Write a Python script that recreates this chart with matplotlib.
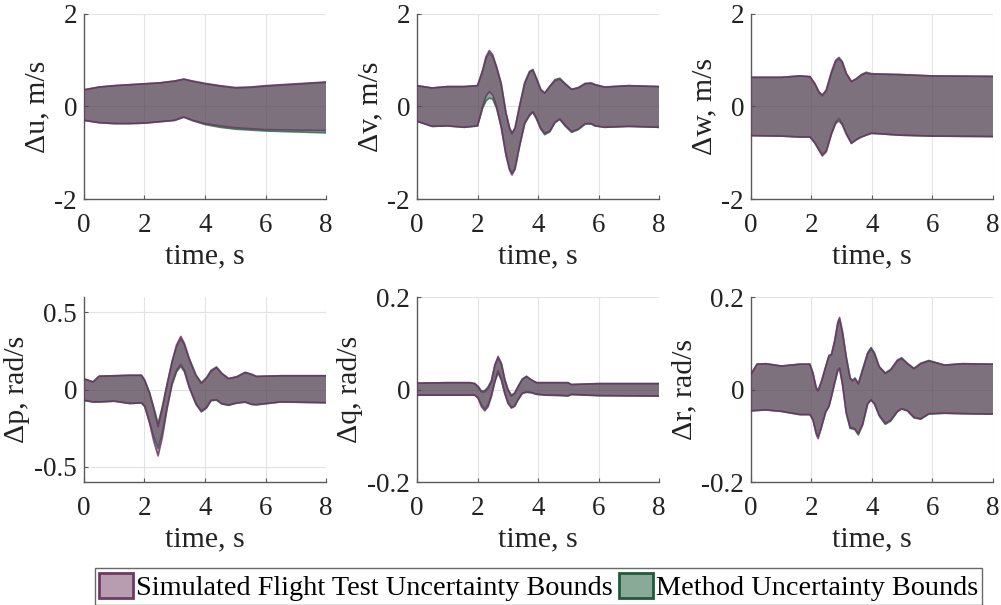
import numpy as np
import matplotlib.pyplot as plt
from matplotlib.patches import Patch

plt.rcParams['font.family'] = ['Liberation Serif', 'DejaVu Serif']
plt.rcParams['axes.unicode_minus'] = False

# --- bounds per state: time, simulated flight test (sim) and method (met) ---
t_u = [0, 0.5, 1, 1.5, 2, 2.5, 3, 3.3, 3.6, 4, 4.5, 5, 5.5, 6, 7, 8]
u_sim_hi = [0.36, 0.42, 0.45, 0.47, 0.49, 0.51, 0.55, 0.59, 0.55, 0.50, 0.45, 0.41, 0.42, 0.45, 0.49, 0.53]
u_sim_lo = [-0.30, -0.35, -0.37, -0.37, -0.36, -0.33, -0.30, -0.23, -0.30, -0.37, -0.42, -0.46, -0.48, -0.50, -0.51, -0.52]
u_met_hi = [0.36, 0.42, 0.45, 0.47, 0.49, 0.51, 0.55, 0.59, 0.54, 0.49, 0.44, 0.40, 0.41, 0.44, 0.48, 0.52]
u_met_lo = [-0.30, -0.35, -0.37, -0.37, -0.36, -0.33, -0.30, -0.23, -0.31, -0.39, -0.45, -0.49, -0.51, -0.53, -0.55, -0.57]

t_v = [0, 0.5, 1, 1.56, 2.0, 2.17, 2.28, 2.39, 2.5, 2.63, 2.78, 2.94, 3.06, 3.14, 3.24, 3.39, 3.56,
       3.72, 3.83, 3.94, 4.09, 4.22, 4.39, 4.56, 4.72, 4.89, 5.11, 5.33, 5.56, 5.76, 5.89, 6.2, 7, 8]
v_sim_hi = [0.45, 0.40, 0.43, 0.43, 0.45, 0.79, 1.08, 1.21, 1.12, 0.86, 0.50, -0.14, -0.47, -0.59, -0.47, 0.0, 0.50,
            0.74, 0.78, 0.61, 0.36, 0.29, 0.43, 0.56, 0.59, 0.49, 0.37, 0.40, 0.49, 0.50, 0.47, 0.42, 0.45, 0.43]
v_sim_lo = [-0.32, -0.43, -0.42, -0.45, -0.42, 0.0, 0.22, 0.32, 0.25, 0.0, -0.43, -1.05, -1.38, -1.48, -1.36, -0.86, -0.36,
            -0.18, -0.11, -0.24, -0.47, -0.58, -0.53, -0.34, -0.27, -0.40, -0.54, -0.49, -0.37, -0.37, -0.42, -0.45, -0.43, -0.45]
v_met_hi = [0.45, 0.40, 0.43, 0.43, 0.45, 0.77, 1.04, 1.16, 1.08, 0.84, 0.50, -0.13, -0.46, -0.57, -0.46, 0.02, 0.52,
            0.76, 0.80, 0.63, 0.37, 0.29, 0.44, 0.58, 0.61, 0.50, 0.37, 0.41, 0.50, 0.51, 0.47, 0.42, 0.45, 0.43]
v_met_lo = [-0.32, -0.43, -0.42, -0.45, -0.42, -0.04, 0.12, 0.18, 0.16, -0.04, -0.44, -1.04, -1.35, -1.44, -1.33, -0.85, -0.37,
            -0.20, -0.13, -0.26, -0.49, -0.61, -0.55, -0.35, -0.28, -0.42, -0.56, -0.50, -0.38, -0.38, -0.42, -0.45, -0.43, -0.45]

t_w = [0, 1, 1.62, 1.95, 2.11, 2.25, 2.36, 2.49, 2.66, 2.8, 2.91, 3.02, 3.15, 3.32, 3.48, 3.65, 3.81, 3.98, 4.25, 4.91, 6, 8]
w_sim_hi = [0.63, 0.63, 0.66, 0.645, 0.50, 0.32, 0.25, 0.36, 0.75, 1.00, 1.06, 0.97, 0.72, 0.54, 0.59, 0.68, 0.72, 0.70,
            0.70, 0.69, 0.66, 0.65]
w_sim_lo = [-0.63, -0.64, -0.66, -0.66, -0.79, -0.95, -1.07, -0.98, -0.60, -0.37, -0.31, -0.40, -0.60, -0.80, -0.72, -0.66,
            -0.62, -0.58, -0.59, -0.62, -0.64, -0.65]
w_met_hi = [0.63, 0.63, 0.66, 0.645, 0.49, 0.30, 0.23, 0.34, 0.72, 0.97, 1.03, 0.95, 0.71, 0.54, 0.60, 0.69, 0.74, 0.71,
            0.70, 0.69, 0.66, 0.65]
w_met_lo = [-0.63, -0.64, -0.66, -0.66, -0.78, -0.93, -1.04, -0.96, -0.59, -0.34, -0.26, -0.37, -0.58, -0.79, -0.72, -0.66,
            -0.62, -0.58, -0.59, -0.62, -0.64, -0.65]

t_p = [0, 0.3, 0.5, 1, 1.52, 1.9, 2.01, 2.17, 2.3, 2.45, 2.59, 2.74, 2.91, 3.06, 3.2, 3.32, 3.48, 3.7, 3.88,
       4.05, 4.2, 4.38, 4.55, 4.78, 5.05, 5.33, 5.55, 5.7, 6.5, 8]
p_sim_hi = [0.07, 0.05, 0.087, 0.09, 0.093, 0.093, 0.06, -0.026, -0.12, -0.24, -0.12, 0.025, 0.18, 0.29, 0.345, 0.30,
            0.20, 0.093, 0.04, 0.075, 0.12, 0.143, 0.105, 0.071, 0.082, 0.11, 0.098, 0.085, 0.09, 0.09]
p_sim_lo = [-0.07, -0.08, -0.08, -0.075, -0.09, -0.086, -0.11, -0.22, -0.33, -0.43, -0.31, -0.134, 0.039, 0.125, 0.164,
            0.125, 0.017, -0.09, -0.138, -0.115, -0.069, -0.066, -0.09, -0.10, -0.086, -0.08, -0.095, -0.097, -0.08, -0.085]
p_met_hi = [0.07, 0.05, 0.087, 0.09, 0.093, 0.093, 0.06, -0.02, -0.11, -0.22, -0.11, 0.03, 0.18, 0.28, 0.33, 0.29,
            0.20, 0.095, 0.045, 0.078, 0.125, 0.147, 0.107, 0.072, 0.084, 0.113, 0.099, 0.086, 0.09, 0.09]
p_met_lo = [-0.07, -0.08, -0.08, -0.075, -0.09, -0.086, -0.11, -0.21, -0.30, -0.38, -0.28, -0.12, 0.03, 0.115, 0.15,
            0.115, 0.012, -0.095, -0.145, -0.12, -0.072, -0.068, -0.093, -0.102, -0.088, -0.082, -0.097, -0.099, -0.08, -0.085]

t_q = [0, 1, 1.75, 1.91, 2.02, 2.13, 2.24, 2.35, 2.46, 2.57, 2.68, 2.79, 2.9, 3.01, 3.12, 3.23, 3.34, 3.48,
       3.62, 3.78, 3.95, 4.27, 4.71, 4.99, 5.1, 6, 8]
q_sim_hi = [0.014, 0.015, 0.015, 0.013, 0.006, -0.005, -0.005, 0.003, 0.017, 0.053, 0.072, 0.057, 0.022, -0.001,
            -0.014, -0.008, 0.006, 0.022, 0.028, 0.021, 0.015, 0.015, 0.015, 0.015, 0.011, 0.013, 0.013]
q_sim_lo = [-0.012, -0.012, -0.012, -0.012, -0.019, -0.037, -0.046, -0.037, -0.015, 0.017, 0.041, 0.022, -0.008,
            -0.030, -0.040, -0.036, -0.022, -0.008, -0.005, -0.006, -0.010, -0.012, -0.012, -0.013, -0.010, -0.013, -0.014]
q_met_hi = [0.014, 0.015, 0.015, 0.013, 0.007, -0.003, -0.002, 0.006, 0.020, 0.052, 0.068, 0.055, 0.022, 0.000,
            -0.012, -0.007, 0.007, 0.023, 0.029, 0.021, 0.015, 0.015, 0.015, 0.015, 0.011, 0.013, 0.013]
q_met_lo = [-0.012, -0.012, -0.012, -0.012, -0.018, -0.033, -0.042, -0.033, -0.012, 0.016, 0.036, 0.020, -0.008,
            -0.029, -0.038, -0.035, -0.022, -0.008, -0.006, -0.007, -0.010, -0.012, -0.013, -0.014, -0.011, -0.013, -0.014]

t_r = [0, 0.2, 0.5, 1, 1.62, 1.95, 2.05, 2.16, 2.22, 2.33, 2.47, 2.58, 2.66, 2.77, 2.87, 2.93, 3.02, 3.15, 3.28,
       3.37, 3.44, 3.55, 3.69, 3.86, 3.97, 4.08, 4.24, 4.44, 4.62, 4.84, 4.98, 5.17, 5.39, 5.61, 5.88, 6.4, 7, 8]
r_sim_hi = [0.033, 0.055, 0.056, 0.051, 0.055, 0.055, 0.035, 0.002, -0.003, 0.017, 0.049, 0.074, 0.076, 0.107,
            0.146, 0.156, 0.128, 0.071, 0.024, 0.019, 0.024, 0.012, 0.042, 0.078, 0.088, 0.078, 0.049, 0.035, 0.042,
            0.062, 0.067, 0.056, 0.045, 0.056, 0.062, 0.053, 0.056, 0.055]
r_sim_lo = [-0.046, -0.045, -0.044, -0.047, -0.054, -0.054, -0.066, -0.097, -0.106, -0.082, -0.049, -0.036, -0.015,
            0.016, 0.043, 0.047, 0.015, -0.050, -0.082, -0.083, -0.085, -0.095, -0.075, -0.030, -0.022, -0.030, -0.055,
            -0.073, -0.066, -0.047, -0.041, -0.045, -0.060, -0.063, -0.052, -0.051, -0.052, -0.053]
r_met_hi = [0.033, 0.055, 0.056, 0.051, 0.055, 0.055, 0.036, 0.004, -0.001, 0.018, 0.050, 0.073, 0.075, 0.105,
            0.142, 0.151, 0.125, 0.070, 0.025, 0.020, 0.025, 0.013, 0.044, 0.080, 0.091, 0.080, 0.050, 0.036, 0.044,
            0.064, 0.069, 0.057, 0.046, 0.057, 0.063, 0.053, 0.056, 0.055]
r_met_lo = [-0.046, -0.045, -0.044, -0.047, -0.054, -0.054, -0.065, -0.094, -0.102, -0.080, -0.048, -0.036, -0.016,
            0.014, 0.040, 0.044, 0.013, -0.051, -0.084, -0.085, -0.087, -0.098, -0.077, -0.031, -0.023, -0.031, -0.057,
            -0.075, -0.068, -0.048, -0.042, -0.046, -0.061, -0.064, -0.053, -0.051, -0.052, -0.053]

ylabels = ['\u0394u, m/s', '\u0394v, m/s', '\u0394w, m/s',
           '\u0394p, rad/s', '\u0394q, rad/s', '\u0394r, rad/s']
yticks = [[-2, 0, 2], [-2, 0, 2], [-2, 0, 2],
          [-0.5, 0, 0.5], [-0.2, 0, 0.2], [-0.2, 0, 0.2]]
ytick_labels = [['-2', '0', '2'], ['-2', '0', '2'], ['-2', '0', '2'],
                ['-0.5', '0', '0.5'], ['-0.2', '0', '0.2'], ['-0.2', '0', '0.2']]
ylims = [(-2, 2), (-2, 2), (-2, 2), (-0.6, 0.6), (-0.2, 0.2), (-0.2, 0.2)]
xticks = [0, 2, 4, 6, 8]

series = [
    (t_u, u_sim_hi, u_sim_lo, u_met_hi, u_met_lo),
    (t_v, v_sim_hi, v_sim_lo, v_met_hi, v_met_lo),
    (t_w, w_sim_hi, w_sim_lo, w_met_hi, w_met_lo),
    (t_p, p_sim_hi, p_sim_lo, p_met_hi, p_met_lo),
    (t_q, q_sim_hi, q_sim_lo, q_met_hi, q_met_lo),
    (t_r, r_sim_hi, r_sim_lo, r_met_hi, r_met_lo),
]

sim_face = '#713b63'
sim_edge = '#6e2f66'
met_face = '#155531'
met_edge = '#1e6a3e'
axis_col = '#5a5a5a'
text_col = '#222222'

fig = plt.figure(figsize=(10.01, 6.05), dpi=100)

lefts = [0.0839, 0.4166, 0.7502]
bottoms = [0.671, 0.203]
w, h = 0.2418, 0.306

for i, (t, s_hi, s_lo, m_hi, m_lo) in enumerate(series):
    ax = fig.add_axes([lefts[i % 3], bottoms[i // 3], w, h])
    # method band underneath, flight-test band on top
    ax.fill_between(t, m_lo, m_hi, facecolor=met_face, alpha=0.5, linewidth=0, zorder=2)
    ax.plot(t, m_hi, color=met_edge, lw=1.2, alpha=0.8, zorder=3)
    ax.plot(t, m_lo, color=met_edge, lw=1.2, alpha=0.8, zorder=3)
    ax.fill_between(t, s_lo, s_hi, facecolor=sim_face, alpha=0.5, linewidth=0, zorder=4)
    ax.plot(t, s_hi, color=sim_edge, lw=1.2, alpha=0.8, zorder=5)
    ax.plot(t, s_lo, color=sim_edge, lw=1.2, alpha=0.8, zorder=5)

    ax.set_xlim(0, 8)
    ax.set_ylim(*ylims[i])
    ax.set_xticks(xticks)
    ax.set_xticklabels([str(x) for x in xticks])
    ax.set_yticks(yticks[i])
    ax.set_yticklabels(ytick_labels[i])
    ax.grid(True, color='#e3e3e3', lw=0.8, zorder=0)
    ax.set_axisbelow(True)
    for side in ['top', 'right']:
        ax.spines[side].set_visible(False)
    for side in ['left', 'bottom']:
        ax.spines[side].set_color(axis_col)
        ax.spines[side].set_linewidth(1.0)
    ax.tick_params(direction='in', length=3, width=0.8, color=axis_col,
                   labelsize=19.5, labelcolor=text_col)
    ax.tick_params(axis='x', pad=10)
    ax.tick_params(axis='y', pad=5)
    ax.set_xlabel('time, s', fontsize=21.5, color=text_col, labelpad=4)
    ax.set_ylabel(ylabels[i], fontsize=21.5, color=text_col, labelpad=3)

handles = [
    Patch(facecolor='#b89db1', edgecolor='#6d3a66', linewidth=2,
          label='Simulated Flight Test Uncertainty Bounds'),
    Patch(facecolor='#8aaa98', edgecolor='#1e5a3a', linewidth=2,
          label='Method Uncertainty Bounds'),
]
leg = fig.legend(handles=handles, loc='center', bbox_to_anchor=(0.538, 0.03), ncol=2,
                 fontsize=20.3, frameon=True, fancybox=False, edgecolor='#444444',
                 handlelength=1.2, handleheight=1.0, handletextpad=0.1,
                 columnspacing=0.25, borderpad=0.15, borderaxespad=0)
leg.get_frame().set_linewidth(1.0)

fig.savefig('out.png', dpi=100)
